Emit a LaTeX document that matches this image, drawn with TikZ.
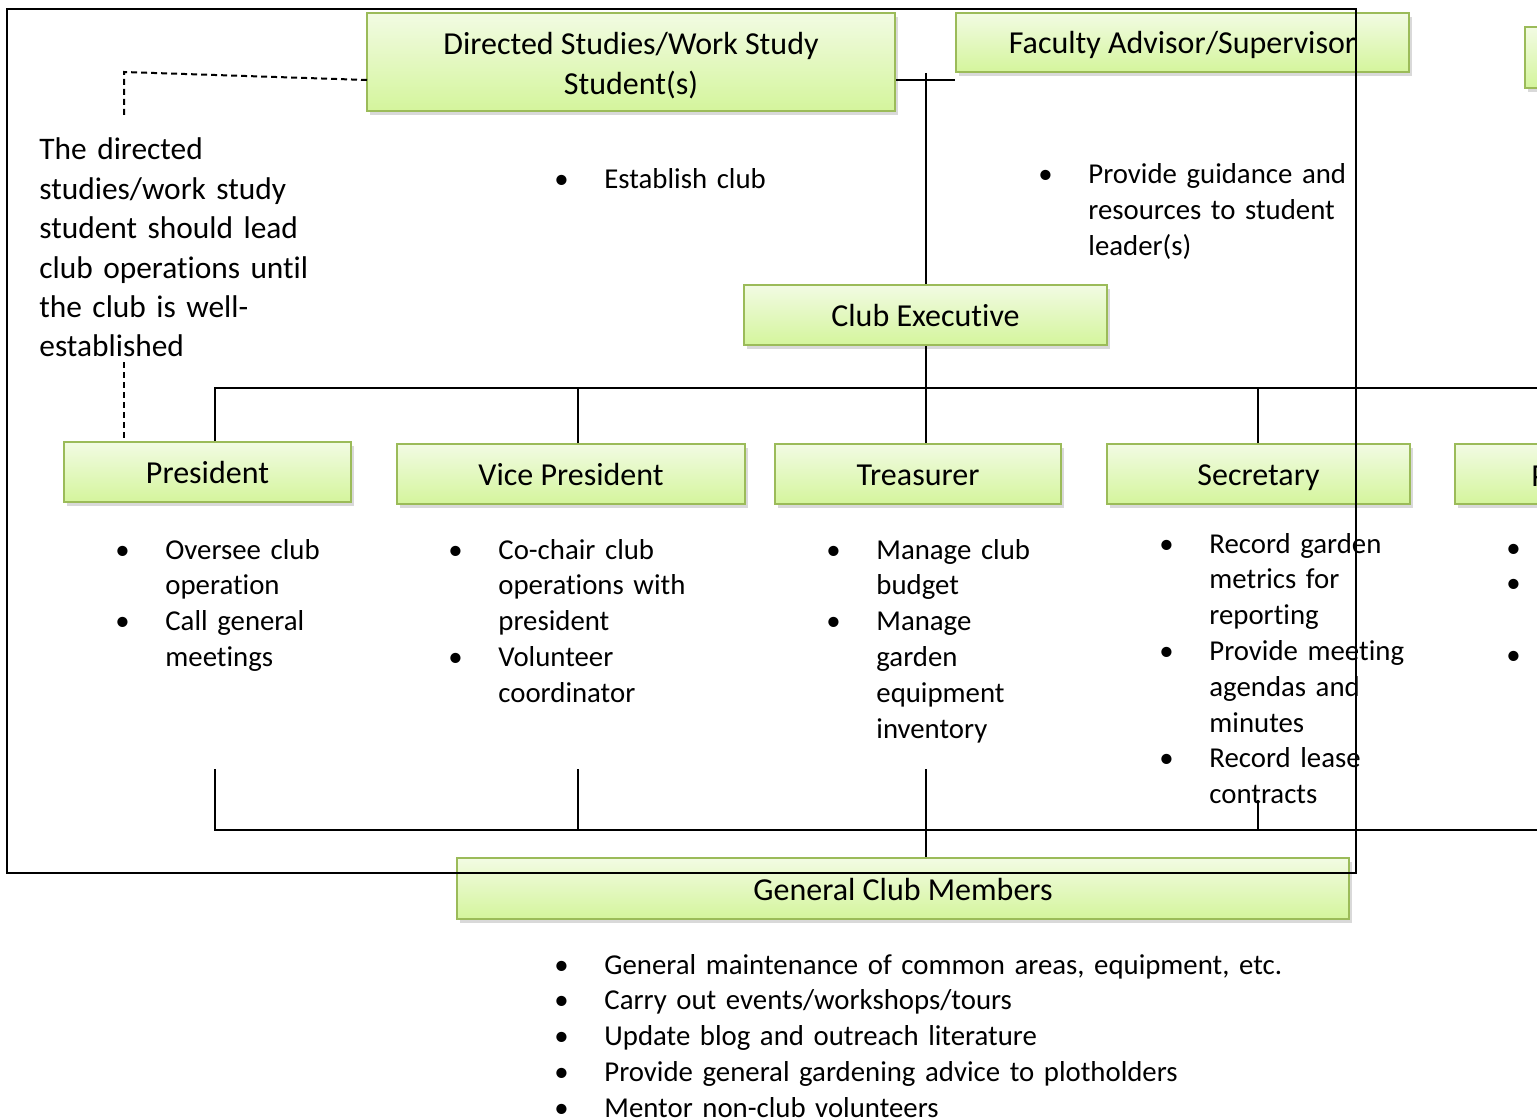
\documentclass[tikz,border=0pt]{standalone}
\usepackage{fontspec}
\setmainfont{Carlito}[Ligatures={NoCommon,NoContextual}]
\usetikzlibrary{shadows}
\definecolor{boxline}{HTML}{9BBB59}
\definecolor{boxtop}{HTML}{F2FBE3}
\definecolor{boxbot}{HTML}{D4F59C}
\tikzset{
  role/.style={draw=boxline, line width=1pt, top color=boxtop, bottom color=boxbot,
    drop shadow={opacity=0.3, shadow xshift=1.5pt, shadow yshift=-2pt},
    minimum height=30pt, inner sep=0pt, font=\fontsize{16}{20}\selectfont},
  one/.style={role, text height=11.5pt, text depth=0pt},
  duty/.style={anchor=base west, inner sep=0pt, text width=220pt, align=left,
    font=\fontsize{14.4}{17.9}\selectfont},
  link/.style={line width=0.8pt},
  hint/.style={line width=1pt, dash pattern=on 3pt off 2pt}
}
\newcommand\bul{\makebox[21.5pt][l]{\hspace*{-3.5pt}\textbullet}}
\newcommand\ind{\hspace*{21.5pt}}

\begin{document}
\begin{tikzpicture}[x=0.5pt, y=-0.5pt]
\useasboundingbox (0,0) rectangle (1537,1118);
% Top boxes
    \node[role, minimum width=264pt, minimum height=49pt, align=center] (dss) at (631,62) {\rule{0pt}{14.5pt}Directed Studies/Work Study\\Student(s)};
    \node[one, minimum width=226.5pt, minimum height=29.5pt] (fas) at (1182.5,42.5) {Faculty Advisor/Supervisor};
    \node[one, minimum width=100pt, minimum height=30.5pt] (topx) at (1625,57.5) {};
    \node[one, minimum width=181.5pt] (exec) at (925.5,315) {Club Executive};
% Officer boxes
    \node[one, minimum width=143.5pt] (pres) at (207.5,472) {President};
    \node[one, minimum width=174pt] (vp) at (571,474) {Vice President};
    \node[one, minimum width=143pt] (treas) at (918,474) {Treasurer};
    \node[one, minimum width=151.5pt] (sec) at (1258.5,474) {Secretary};
    \node[one, minimum width=151.5pt] (rowx) at (1606.5,474) {};
    \node[anchor=base west, inner sep=0pt, font=\fontsize{16}{20}\selectfont] (rowxl) at (1531,486) {P};
    \node[one, minimum width=446pt, minimum height=30.5pt] (gcm) at (903,888.5) {General Club Members};
% Note on the left
    \node[anchor=base west, inner sep=0pt, text width=150pt, align=left,
      font=\fontsize{15.7}{19.7}\selectfont] (note) at (39,160)
      {The directed\\studies/work study\\student should lead\\club operations until\\the club is well-\\established};
% Duties
    \node[duty] (estd) at (561,189) {\bul Establish club};
    \node[duty] (fasd) at (1045,184) {\bul Provide guidance and\\\ind resources to student\\\ind leader(s)};
    \node[duty] (presd) at (122,559) {\bul Oversee club\\\ind operation\\\bul Call general\\\ind meetings};
    \node[duty] (vpd) at (455,559) {\bul Co-chair club\\\ind operations with\\\ind president\\\bul Volunteer\\\ind coordinator};
    \node[duty] (treasd) at (833,559) {\bul Manage club\\\ind budget\\\bul Manage\\\ind garden\\\ind equipment\\\ind inventory};
    \node[duty] (secd) at (1166,553) {\bul Record garden\\\ind metrics for\\\ind reporting\\\bul Provide meeting\\\ind agendas and\\\ind minutes\\\bul Record lease\\\ind contracts};
    \node[duty] (rowxd) at (1513,557) {\bul\\\bul\\\mbox{}\\\bul};
    \node[duty, text width=420pt] (gcmd) at (561,974) {\bul General maintenance of common areas, equipment, etc.\\\bul Carry out events/workshops/tours\\\bul Update blog and outreach literature\\\bul Provide general gardening advice to plotholders\\\bul Mentor non-club volunteers};
% Dashed links
    \coordinate (dssin) at (367,80);
    \draw[hint] (dssin) -- (124,72) -- (124,118);
    \draw[hint] (124,362) -- (pres.north -| 124,0);
% Solid links
    \draw[link] (dss.east |- 0,80) -- (fas.west |- 0,80);
    \draw[link] (926,73) -- (exec.north -| 926,0);
    \draw[link] (pres.north -| 215,0) |- (1540,388);
    \draw[link] (vp.north -| 578,0) -- (578,388);
    \draw[link] (exec.south -| 926,0) -- (treas.north -| 926,0);
    \draw[link] (sec.north -| 1258,0) -- (1258,388);
    \draw[link] (215,769) |- (1540,830);
    \draw[link] (578,769) -- (578,830);
    \draw[link] (926,769) -- (gcm.north -| 926,0);
    \draw[link] (1258,800) -- (1258,830);
% Frame
    \draw[line width=1pt] (7,9) rectangle (1356,873);
\end{tikzpicture}
\end{document}
